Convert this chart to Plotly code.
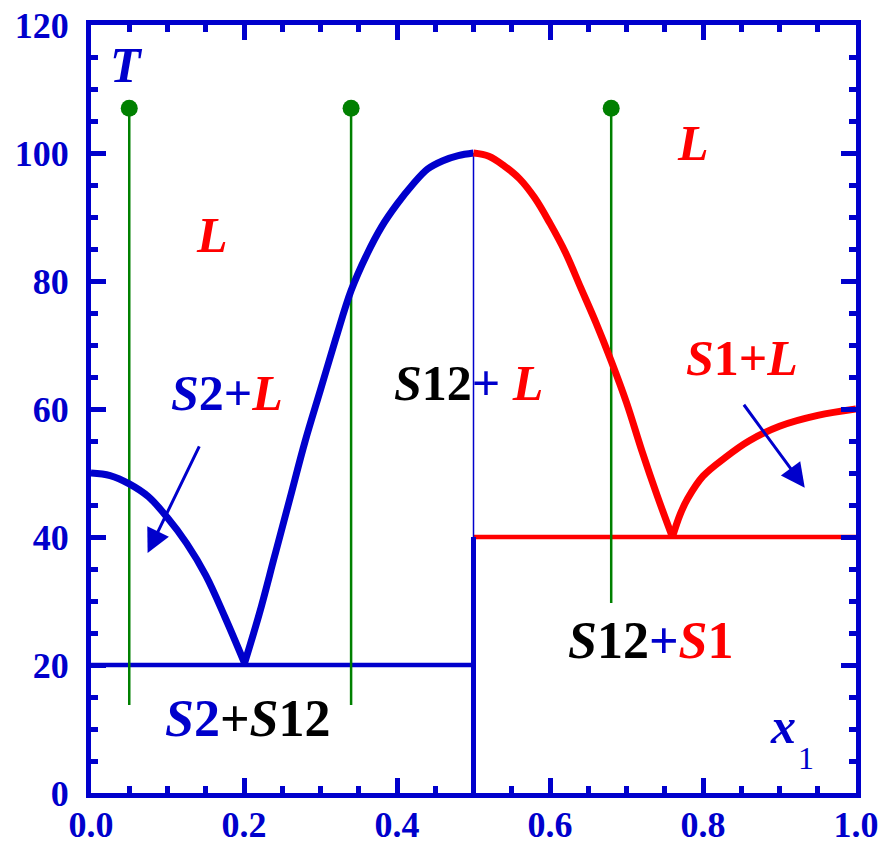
import plotly.graph_objects as go

BLUE = "#0000CC"
RED = "#FF0000"
GREEN = "#008000"
BLACK = "#000000"

# Liquidus branch of component 2 (S2 + L)
s2_x = [0.0, 0.025, 0.05, 0.075, 0.1, 0.125, 0.15, 0.175, 0.2]
s2_T = [50.0, 49.6, 48.3, 46.3, 43.0, 39.0, 34.0, 27.5, 20.5]

# Liquidus of compound S12, left side (blue)
s12a_x = [0.2, 0.22, 0.24, 0.26, 0.28, 0.30, 0.32, 0.34, 0.36, 0.38, 0.40, 0.42, 0.44, 0.46, 0.48, 0.5]
s12a_T = [20.0, 28.0, 37.0, 46.0, 55.0, 63.0, 71.0, 78.5, 84.0, 88.5, 92.0, 95.0, 97.5, 98.8, 99.6, 100.0]

# Liquidus of compound S12, right side (red)
s12b_x = [0.5, 0.52, 0.54, 0.56, 0.58, 0.60, 0.62, 0.64, 0.66, 0.68, 0.70, 0.72, 0.74, 0.76]
s12b_T = [100.0, 99.5, 98.0, 96.0, 93.0, 89.0, 84.5, 79.0, 73.5, 67.5, 61.0, 53.5, 46.5, 40.0]

# Liquidus of component 1 (S1 + L)
s1_x = [0.76, 0.77, 0.78, 0.80, 0.83, 0.86, 0.90, 0.95, 1.0]
s1_T = [40.0, 43.5, 46.0, 49.5, 52.5, 55.0, 57.3, 59.0, 60.0]

# Eutectic lines and compound line
eut1_x = [0.0, 0.5]; eut1_T = [20.0, 20.0]
eut2_x = [0.5, 1.0]; eut2_T = [40.0, 40.0]
comp_low_x = [0.5, 0.5]; comp_low_T = [0.0, 40.0]
comp_high_x = [0.5, 0.5]; comp_high_T = [40.0, 100.0]

# Cooling paths (isopleths)
iso_x = [0.05, 0.34, 0.68]
iso_bottom = [13.75, 13.75, 29.7]
iso_top = [107.0, 107.0, 107.0]

# Arrows: (tail x, tail T, head x, head T)
arrows = [(0.1425, 54.4, 0.074, 37.5), (0.852, 60.9, 0.933, 47.7)]

x_ticks = [0.0, 0.2, 0.4, 0.6, 0.8, 1.0]
x_tick_text = ["0.0", "0.2", "0.4", "0.6", "0.8", "1.0"]
y_ticks = [0, 20, 40, 60, 80, 100, 120]
y_tick_text = ["0", "20", "40", "60", "80", "100", "120"]

FONT = "Liberation Serif, Times New Roman, serif"

fig = go.Figure()

def line(x, y, color, width, smooth=False):
    fig.add_trace(go.Scatter(x=x, y=y, mode="lines",
                             line=dict(color=color, width=width, shape="spline" if smooth else "linear"),
                             showlegend=False, hoverinfo="skip"))

line(eut1_x, eut1_T, BLUE, 4.5)
line(eut2_x, eut2_T, RED, 4.5)
line(comp_low_x, comp_low_T, BLUE, 5)
line(comp_high_x, comp_high_T, BLUE, 1.5)
for xv, b, t in zip(iso_x, iso_bottom, iso_top):
    line([xv, xv], [b, t], GREEN, 2.5)
    fig.add_trace(go.Scatter(x=[xv], y=[t], mode="markers",
                             marker=dict(color=GREEN, size=17), showlegend=False, hoverinfo="skip"))
line(s2_x, s2_T, BLUE, 7, True)
line(s12a_x, s12a_T, BLUE, 7, True)
line(s12b_x, s12b_T, RED, 7, True)
line(s1_x, s1_T, RED, 7, True)

for tx, ty, hx, hy in arrows:
    fig.add_annotation(x=hx, y=hy, ax=tx, ay=ty, xref="x", yref="y", axref="x", ayref="y",
                       text="", showarrow=True, arrowhead=2, arrowsize=1.6, arrowwidth=3,
                       arrowcolor=BLUE)

def label(x, y, text, size=50, color=BLACK, weight="bold"):
    fig.add_annotation(x=x, y=y, xref="x", yref="y", text=text, showarrow=False,
                       font=dict(family=FONT, size=size, color=color, weight=weight))

def c(col, s):
    return f"<span style='color:{col}'>{s}</span>"

label(0.047, 113.7, "<i>T</i>", color=BLUE)
label(0.158, 87.2, "<i>L</i>", color=RED)
label(0.787, 101.6, "<i>L</i>", color=RED)
label(0.178, 62.5, c(BLUE, "<i>S</i>2+") + c(RED, "<i>L</i>"))
label(0.493, 64.0, c(BLACK, "<i>S</i>12") + c(BLUE, "+ ") + c(RED, "<i>L</i>"))
label(0.851, 68.0, c(RED, "<i>S</i>1+<i>L</i>"))
label(0.204, 11.7, c(BLUE, "<i>S</i>2") + c(BLACK, "+<i>S</i>12"), size=52)
label(0.731, 23.9, c(BLACK, "<i>S</i>12") + c(BLUE, "+") + c(RED, "<i>S</i>1"), size=52)
label(0.905, 10.5, "<i>x</i>", color=BLUE)
label(0.935, 5.5, "1", size=32, color=BLUE, weight="normal")

axis_common = dict(showgrid=False, zeroline=False, showline=True, linecolor=BLUE, linewidth=5,
                   ticks="inside", ticklen=15, tickwidth=5, tickcolor=BLUE, mirror="allticks",
                   automargin=False,
                   tickfont=dict(family=FONT, size=36, color=BLUE, weight="bold"))

fig.update_xaxes(range=[0, 1], tickvals=x_ticks, ticktext=x_tick_text,
                 minor=dict(ticks="inside", ticklen=7, tickwidth=5, tickcolor=BLUE, dtick=0.05, tick0=0),
                 ticklabelstandoff=-4, **axis_common)
fig.update_yaxes(range=[0, 120], tickvals=y_ticks, ticktext=y_tick_text,
                 minor=dict(ticks="inside", ticklen=7, tickwidth=5, tickcolor=BLUE, dtick=5, tick0=0),
                 ticklabelstandoff=10, **axis_common)

fig.update_layout(width=884, height=845, margin=dict(l=91, r=28, t=25, b=52),
                  plot_bgcolor="white", paper_bgcolor="white", showlegend=False)

fig.write_html("out.html")
